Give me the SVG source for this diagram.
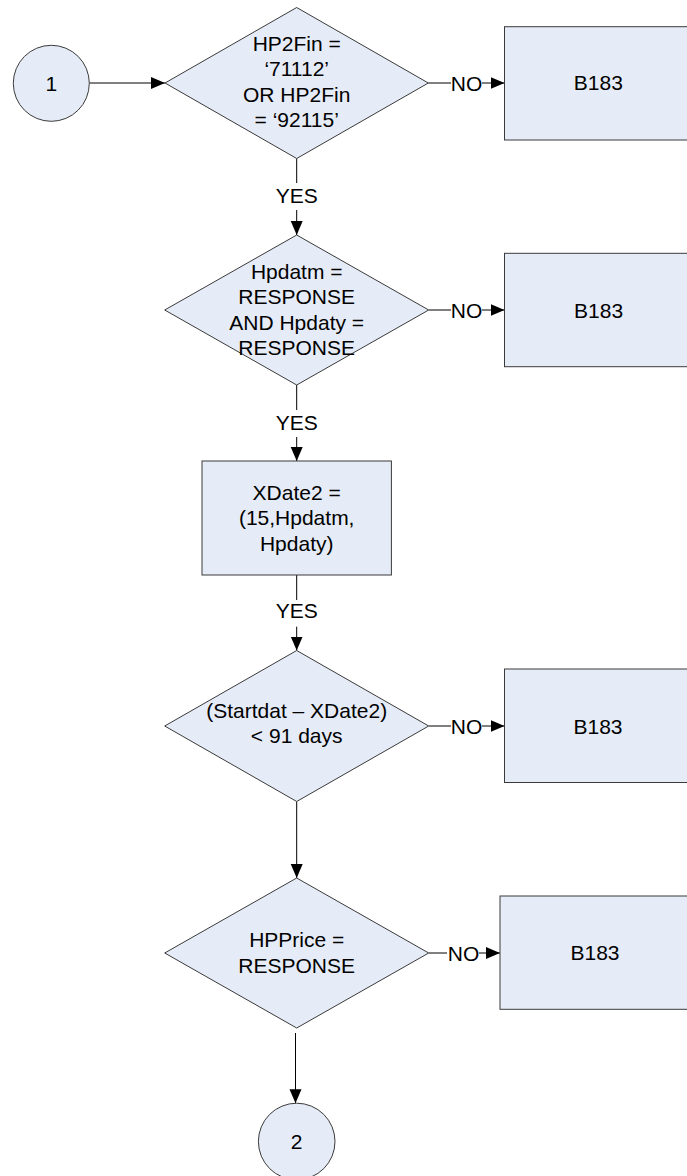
<svg xmlns="http://www.w3.org/2000/svg" width="687" height="1176" viewBox="0 0 687 1176">
<defs>
<style>
.shape{fill:#E6ECF7;stroke:#3a3a3a;stroke-width:1}
.conn{fill:none;stroke:#000;stroke-width:1}
.t{font-family:"Liberation Sans",Arial,sans-serif;font-size:21px;fill:#000;text-anchor:middle}
</style>
<marker id="arr" markerUnits="userSpaceOnUse" markerWidth="15" markerHeight="13" refX="14" refY="6" orient="auto">
<path d="M0,0 L14,6 L0,12 z" fill="#000"/>
</marker>
</defs>
<rect width="687" height="1176" fill="#fff"/>
<g id="connectors">
<line class="conn" x1="89.3" y1="83" x2="165" y2="83" marker-end="url(#arr)"/>
<line class="conn" x1="428.3" y1="83" x2="451" y2="83"/>
<line class="conn" x1="482" y1="83" x2="504.5" y2="83" marker-end="url(#arr)"/>
<text class="t" x="466.5" y="90.5">NO</text>
<line class="conn" x1="296.7" y1="158.5" x2="296.7" y2="183"/>
<text class="t" x="296.7" y="202.7">YES</text>
<line class="conn" x1="296.7" y1="210" x2="296.7" y2="235" marker-end="url(#arr)"/>
<line class="conn" x1="428.7" y1="310" x2="451" y2="310"/>
<line class="conn" x1="482" y1="310" x2="504.5" y2="310" marker-end="url(#arr)"/>
<text class="t" x="466.5" y="317.5">NO</text>
<line class="conn" x1="296.7" y1="385" x2="296.7" y2="410"/>
<text class="t" x="296.7" y="430">YES</text>
<line class="conn" x1="296.7" y1="437" x2="296.7" y2="461" marker-end="url(#arr)"/>
<line class="conn" x1="296.7" y1="575" x2="296.7" y2="600"/>
<text class="t" x="296.7" y="618.3">YES</text>
<line class="conn" x1="296.7" y1="626.7" x2="296.7" y2="650.5" marker-end="url(#arr)"/>
<line class="conn" x1="428.7" y1="726" x2="451" y2="726"/>
<line class="conn" x1="482" y1="726" x2="504.5" y2="726" marker-end="url(#arr)"/>
<text class="t" x="466.5" y="733.5">NO</text>
<line class="conn" x1="296.7" y1="801.5" x2="296.7" y2="878" marker-end="url(#arr)"/>
<line class="conn" x1="428.7" y1="953" x2="447" y2="953"/>
<line class="conn" x1="479" y1="953" x2="500" y2="953" marker-end="url(#arr)"/>
<text class="t" x="463.5" y="960.5">NO</text>
<line class="conn" x1="295.5" y1="1033" x2="295.5" y2="1103.3" marker-end="url(#arr)"/>
</g>
<g id="start1">
<circle class="shape" cx="51.3" cy="83.3" r="38"/>
<text class="t" x="51.3" y="90.8">1</text>
</g>
<g id="dec1">
<polygon class="shape" points="165,83 296.7,7.5 428.3,83 296.7,158.5"/>
<text class="t" x="296.7" y="50.5">HP2Fin =</text>
<text class="t" x="296.7" y="76">‘71112’</text>
<text class="t" x="296.7" y="101.5">OR HP2Fin</text>
<text class="t" x="296.7" y="127">= ‘92115’</text>
</g>
<g id="b183a">
<rect class="shape" x="504.5" y="26.7" width="200" height="113.3"/>
<text class="t" x="598.3" y="90">B183</text>
</g>
<g id="dec2">
<polygon class="shape" points="164.7,310 296.7,235 428.7,310 296.7,385"/>
<text class="t" x="296.7" y="278.5">Hpdatm =</text>
<text class="t" x="296.7" y="304">RESPONSE</text>
<text class="t" x="296.7" y="329.5">AND Hpdaty =</text>
<text class="t" x="296.7" y="355">RESPONSE</text>
</g>
<g id="b183b">
<rect class="shape" x="504.5" y="253.3" width="200" height="113.4"/>
<text class="t" x="598.6" y="317.5">B183</text>
</g>
<g id="xdate">
<rect class="shape" x="202" y="461" width="189.4" height="114"/>
<text class="t" x="296.7" y="499.5">XDate2 =</text>
<text class="t" x="296.7" y="525">(15,Hpdatm,</text>
<text class="t" x="296.7" y="550.5">Hpdaty)</text>
</g>
<g id="dec3">
<polygon class="shape" points="164.7,726 296.7,650.5 428.7,726 296.7,801.5"/>
<text class="t" x="296.7" y="718.3">(Startdat – XDate2)</text>
<text class="t" x="296.7" y="743.3">&lt; 91 days</text>
</g>
<g id="b183c">
<rect class="shape" x="504.5" y="669" width="200" height="113.5"/>
<text class="t" x="598" y="733.5">B183</text>
</g>
<g id="dec4">
<polygon class="shape" points="164.7,953 296.7,878 428.7,953 296.7,1028"/>
<text class="t" x="296.7" y="947">HPPrice =</text>
<text class="t" x="296.7" y="972.5">RESPONSE</text>
</g>
<g id="b183d">
<rect class="shape" x="500" y="896" width="200" height="113.3"/>
<text class="t" x="595" y="960">B183</text>
</g>
<g id="end2">
<circle class="shape" cx="296.7" cy="1141.5" r="38.3"/>
<text class="t" x="296.7" y="1148.5">2</text>
</g>
</svg>
